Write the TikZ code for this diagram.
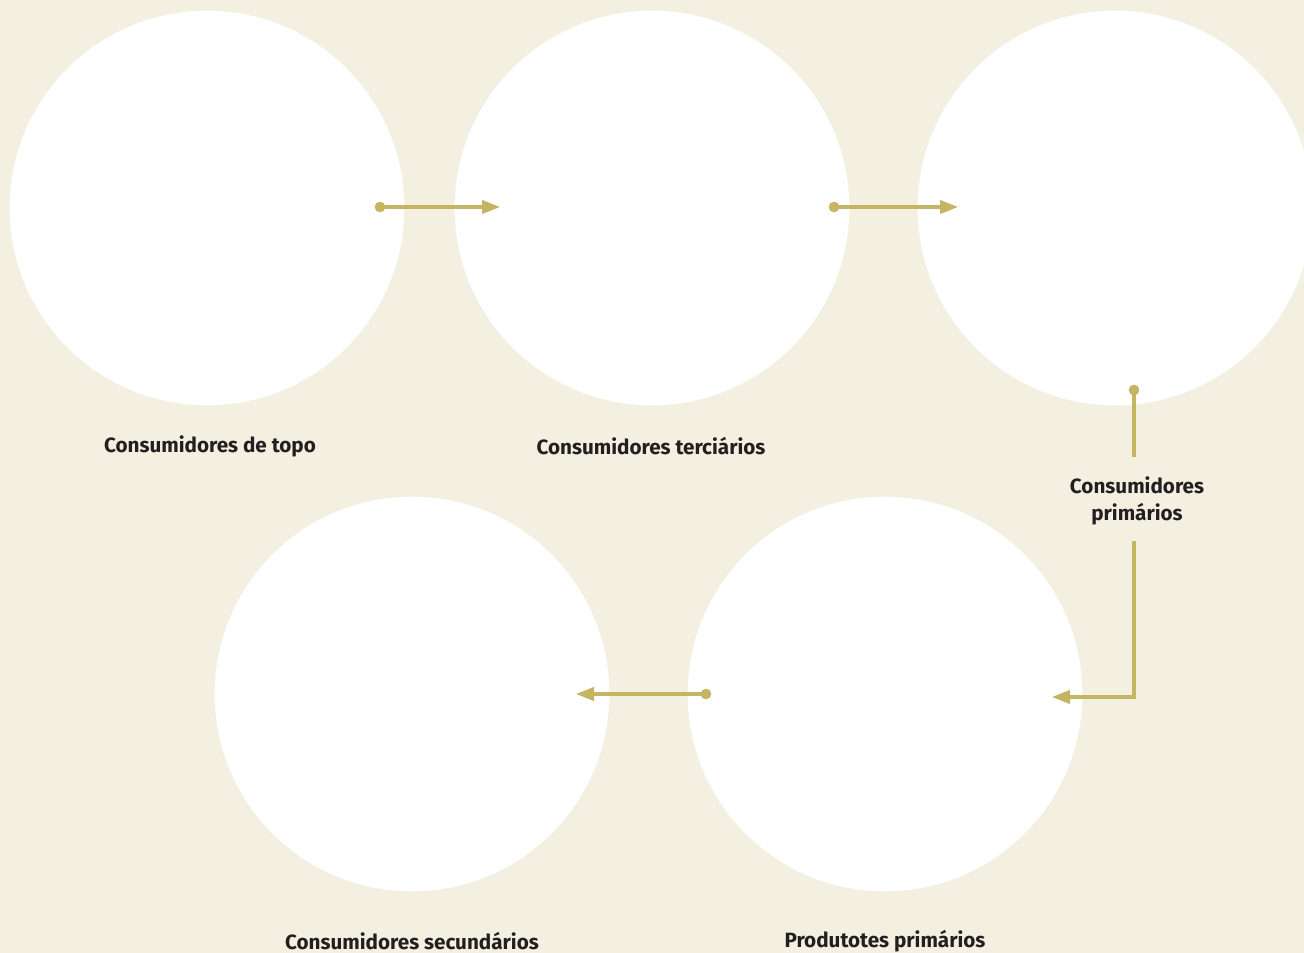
\documentclass[tikz,border=0pt]{standalone}
\usepackage{fontspec}
\setmainfont{Fira Sans}
\usetikzlibrary{arrows.meta}

\definecolor{paper}{HTML}{F3EFE1}
\definecolor{gold}{HTML}{C5B462}
\definecolor{ink}{HTML}{231F20}

\tikzset{
  level/.style={circle, fill=white, minimum size=296pt, inner sep=0pt},
  caption/.style={font=\bfseries\fontsize{15.5}{20}\selectfont, text=ink, align=center},
  pin/.style={circle, fill=gold, inner sep=0pt, minimum size=8pt},
  flow/.style={draw=gold, line width=2.3pt, -{Triangle[length=13.5pt, width=10pt]}}
}

\begin{document}
\begin{tikzpicture}[x=0.75pt, y=-0.75pt]
\fill[paper] (0,0) rectangle (1304,953);
\clip (0,0) rectangle (1304,953);

% the levels
\node[level] (topo)   at (207,208)  {};
\node[level] (terc)   at (652,208)  {};
\node[level] (prim)   at (1115,208) {};
\node[level] (secund) at (412,694)  {};
\node[level] (produt) at (885,694)  {};

% captions
\node[caption] (topoT)   at (210,446) {Consumidores de topo};
\node[caption] (tercT)   at (651,446) {Consumidores terciários};
\node[caption] (primT)   at (1137,501) {Consumidores\\primários};
\node[caption] (secundT) at (412,941) {Consumidores secundários};
\node[caption] (produtT) at (885,941) {Produtotes primários};

% flows
\node[pin] (p1) at (380,207)  {};
\node[pin] (p2) at (834,207)  {};
\node[pin] (p3) at (1134,390) {};
\node[pin] (p4) at (706,694)  {};

\coordinate (h1) at (500,207);
\coordinate (h2) at (958,207);
\coordinate (b3) at (1134,457);
\coordinate (c3) at (1134,541);
\coordinate (k3) at (1134,697);
\coordinate (h3) at (1052,697);
\coordinate (h4) at (576,694);

\draw[flow] (p1.center) -- (h1);
\draw[flow] (p2.center) -- (h2);
\draw[draw=gold, line width=2.3pt] (p3.center) -- (b3);
\draw[flow] (c3) -- (k3) -- (h3);
\draw[flow] (p4.center) -- (h4);

\end{tikzpicture}
\end{document}
